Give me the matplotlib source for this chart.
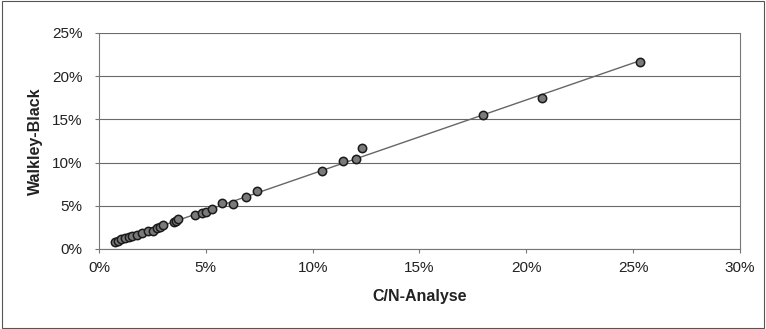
import numpy as np
import matplotlib
matplotlib.use("Agg")
import matplotlib.pyplot as plt
from matplotlib.ticker import FuncFormatter
from matplotlib.patches import Rectangle

plt.rcParams['font.family'] = ['Liberation Sans', 'DejaVu Sans']

# C/N-Analyse vs Walkley-Black (in %)
cn = [0.75, 0.9, 1.05, 1.22, 1.4, 1.55, 1.76, 2.0, 2.3, 2.54, 2.7, 2.85, 3.0,
      3.5, 3.6, 3.71, 4.5, 4.8, 5.0, 5.27, 5.74, 6.27, 6.9, 7.38,
      10.42, 11.4, 12.03, 12.29, 17.98, 20.75, 25.32]
wb = [0.85, 0.95, 1.1, 1.24, 1.35, 1.5, 1.62, 1.85, 2.1, 2.12, 2.4, 2.5, 2.78,
      3.1, 3.2, 3.43, 3.9, 4.13, 4.3, 4.59, 5.29, 5.2, 6.05, 6.75,
      9.06, 10.19, 10.38, 11.65, 15.51, 17.44, 21.68]

x_ticks = [0, 5, 10, 15, 20, 25, 30]
y_ticks = [0, 5, 10, 15, 20, 25]

fig = plt.figure(figsize=(7.66, 3.29), dpi=100)
ax = fig.add_axes([0.1292, 0.2432, 0.966 - 0.1292, 0.8997 - 0.2432])

# outer chart border
fig.patches.append(Rectangle((0.002, 0.003), 0.996, 0.994, transform=fig.transFigure,
                             fill=False, edgecolor='#555555', linewidth=0.8))

ax.set_xlim(0, 30)
ax.set_ylim(0, 25)
ax.set_xticks(x_ticks)
ax.set_yticks(y_ticks)
pct = FuncFormatter(lambda v, p: f"{v:.0f}%")
ax.xaxis.set_major_formatter(pct)
ax.yaxis.set_major_formatter(pct)
ax.yaxis.grid(True, color='#6a6a6a', linewidth=0.8)
ax.set_axisbelow(True)

for s in ax.spines.values():
    s.set_color('#777777')
    s.set_linewidth(0.8)
ax.spines['top'].set_visible(False)
ax.tick_params(axis='both', colors='#777777', labelcolor='#222222', labelsize=11,
               length=3, width=0.8)
ax.tick_params(axis='x', pad=6)
ax.tick_params(axis='y', pad=9)

# linear trend line
m, b = np.polyfit(cn, wb, 1)
xl = np.array([min(cn), max(cn)])
ax.plot(xl, m * xl + b, color='#666666', linewidth=1.0, zorder=2)

ax.scatter(cn, wb, s=36, facecolor='#7a7a7a', edgecolor='#1a1a1a',
           linewidth=1.1, zorder=3)

ax.set_xlabel("C/N-Analyse", fontsize=11.5, fontweight='bold', color='#222222', labelpad=10)
ax.set_ylabel("Walkley-Black", fontsize=11.5, fontweight='bold', color='#222222', labelpad=6)

fig.savefig("out.png", dpi=100)
